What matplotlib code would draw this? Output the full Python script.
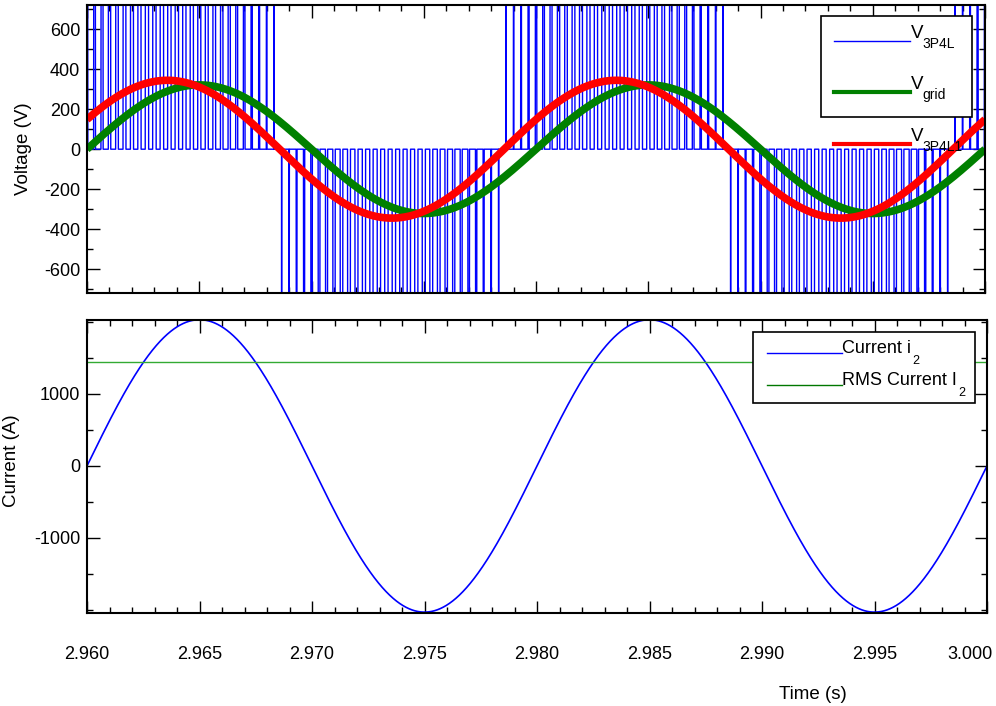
import numpy as np
import matplotlib
matplotlib.use("Agg")
import matplotlib.pyplot as plt
from matplotlib.patches import Rectangle
from matplotlib.lines import Line2D
from matplotlib.ticker import MultipleLocator
from matplotlib.transforms import ScaledTranslation

plt.rcParams['font.family'] = ['Liberation Sans', 'DejaVu Sans']
plt.rcParams['axes.unicode_minus'] = False

# ---- waveform parameters ----
t_start, t_end = 2.960, 3.000
f_grid = 50.0                 # Hz
v_grid_amp = 322.0            # V, grid voltage peak
v_inv_amp = 345.0             # V, fundamental of inverter voltage
v_inv_lead = 0.00142          # s, inverter voltage lead over grid
v_dc = 750.0                  # V, PWM pulse height
f_carrier = 3000.0            # Hz, PWM carrier
i_amp = 2030.0                # A, current peak
i_rms = 1436.0                # A, RMS current

# axis ticks
x_ticks = [2.960, 2.965, 2.970, 2.975, 2.980, 2.985, 2.990, 2.995, 3.000]
x_tick_labels = ["2.960", "2.965", "2.970", "2.975", "2.980", "2.985", "2.990", "2.995", "3.000"]
v_ticks = [-600, -400, -200, 0, 200, 400, 600]
i_ticks = [-1000, 0, 1000]

t = np.linspace(t_start, t_end, 60001)
w = 2 * np.pi * f_grid
phase = w * (t - t_start)

v_grid = v_grid_amp * np.sin(phase)
v_inv1 = v_inv_amp * np.sin(phase + w * v_inv_lead)

# unipolar sinusoidal PWM
m = v_inv_amp / v_dc
ref = m * np.sin(phase + w * v_inv_lead)
carrier = (t * f_carrier) % 1.0
carrier = 1 - np.abs(2 * carrier - 1)
v_pwm = np.where(np.abs(ref) > carrier, np.sign(ref) * v_dc, 0.0)

i_2 = i_amp * np.sin(phase)
i_rms_line = np.full_like(t, i_rms)

W, H = 996, 706
fig = plt.figure(figsize=(W / 100, H / 100), dpi=100)


def fx(x):
    return x / W


def fy(y):
    return 1 - y / H


ax1 = fig.add_axes([fx(87), fy(293), (985 - 87) / W, (293 - 5) / H])
ax2 = fig.add_axes([fx(87), fy(613), (987 - 87) / W, (613 - 320) / H])

ax1.plot(t, v_pwm, color='#0000ff', lw=1.0)
ax1.plot(t, v_grid, color='#008000', lw=5.5, solid_capstyle='butt')
ax1.plot(t, v_inv1, color='#ff0000', lw=5.5, solid_capstyle='butt')
ax1.set_xlim(t_start, t_end)
ax1.set_ylim(-720, 722)
ax1.set_yticks(v_ticks)
ax1.yaxis.set_minor_locator(MultipleLocator(100))
ax1.set_xticks(x_ticks)
ax1.xaxis.set_minor_locator(MultipleLocator(0.001))
ax1.set_xticklabels([])
ax1.set_ylabel("Voltage (V)", fontsize=13.5)
ax1.yaxis.set_label_coords(-0.061, 0.5)

ax2.plot(t, i_2, color='#0000ff', lw=1.2)
ax2.plot(t, i_rms_line, color='#33aa33', lw=1.0)
ax2.set_xlim(t_start, t_end)
ax2.set_ylim(-2042, 2026)
ax2.set_yticks(i_ticks)
ax2.yaxis.set_minor_locator(MultipleLocator(500))
ax2.set_xticks(x_ticks)
ax2.set_xticklabels(x_tick_labels)
ax2.xaxis.set_minor_locator(MultipleLocator(0.001))
ax2.set_ylabel("Current (A)", fontsize=13.5)
ax2.yaxis.set_label_coords(-0.0744, 0.52)
ax2.set_xlabel("Time (s)", fontsize=13.5)
ax2.xaxis.set_label_coords(0.806, -0.25)

for ax in (ax1, ax2):
    for s in ax.spines.values():
        s.set_linewidth(1.5)
    ax.tick_params(which='both', direction='in', top=True, right=True,
                   labelsize=13, width=1.0)
    ax.tick_params(which='major', length=9)
    ax.tick_params(which='minor', length=4.5)
    ax.tick_params(axis='y', pad=5)
ax2.tick_params(axis='x', pad=24)

# shift last x label left so it stays inside the canvas
last = ax2.get_xticklabels()[-1]
last.set_transform(last.get_transform() + ScaledTranslation(-17 / 100, 0, fig.dpi_scale_trans))

# ---- legend for voltage panel ----
fig.add_artist(Rectangle((fx(821), fy(117)), (972 - 821) / W, (117 - 16) / H,
                         transform=fig.transFigure, facecolor='white',
                         edgecolor='black', lw=1.2, zorder=5))
entries_v = [
    (41, '#0000ff', 1.0, "3P4L"),
    (92, '#008000', 3.0, "grid"),
    (144, '#ff0000', 3.0, "3P4L1"),
]
for y, c, lw, sub in entries_v:
    fig.add_artist(Line2D([fx(834), fx(910)], [fy(y), fy(y)], color=c, lw=lw,
                          transform=fig.transFigure, zorder=6))
    fig.text(fx(911), fy(y - 3), "V", fontsize=13.5, ha='left', va='baseline', zorder=7)
    fig.text(fx(922), fy(y + 7), sub, fontsize=10, ha='left', va='baseline', zorder=7)

# ---- legend for current panel ----
fig.add_artist(Rectangle((fx(753), fy(403)), (975 - 753) / W, (403 - 332) / H,
                         transform=fig.transFigure, facecolor='white',
                         edgecolor='black', lw=1.2, zorder=5))
entries_i = [
    (353, '#0000ff', "Current i", 912),
    (385, '#007700', "RMS Current I", 958),
]
for y, c, label, sx in entries_i:
    fig.add_artist(Line2D([fx(767), fx(842)], [fy(y), fy(y)], color=c, lw=1.0,
                          transform=fig.transFigure, zorder=6))
    fig.text(fx(842), fy(y), label, fontsize=13, ha='left', va='baseline', zorder=7)
    fig.text(fx(sx), fy(y + 11), "2", fontsize=9, ha='left', va='baseline', zorder=7)

fig.savefig("out.png", dpi=100)
